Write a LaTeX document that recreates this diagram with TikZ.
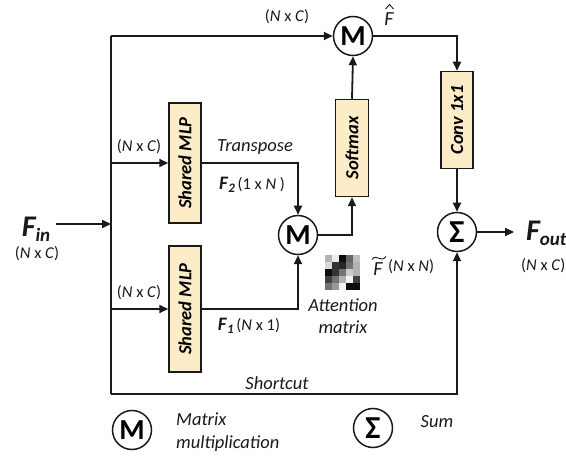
\documentclass[tikz,border=0pt]{standalone}
\usepackage{fontspec}
\setmainfont{Carlito}
\usetikzlibrary{arrows.meta}
\definecolor{boxfill}{RGB}{253,236,200}
\definecolor{ink}{RGB}{25,25,25}
\tikzset{
  arr/.style={-{Triangle[length=9pt,width=8pt]}, line width=1.8pt, draw=ink},
  ln/.style={line width=1.8pt, draw=ink},
  accent/.style={line width=0.9pt, draw=ink},
  opbox/.style={draw=ink, line width=1.5pt, fill=boxfill, rectangle, inner sep=0pt, minimum width=32pt, font=\fontsize{18.5}{18.5}\selectfont\bfseries\itshape},
  opcirc/.style={draw=ink, line width=1.5pt, circle, inner sep=0pt, minimum size=39pt, font=\fontsize{29}{29}\selectfont\bfseries},
  lbl/.style={inner sep=0pt, text=ink, font=\fontsize{16.5}{16.5}\selectfont},
  ilbl/.style={inner sep=0pt, text=ink, font=\fontsize{18.5}{18.5}\selectfont\itshape},
}
\newcommand{\NxC}{(\textit{N} x \textit{C})}
\begin{document}
\begin{tikzpicture}[x=1pt,y=-1pt]
\useasboundingbox (0,0) rectangle (566,457);
% nodes
\node[inner sep=0pt, text=ink, font=\fontsize{30}{30}\selectfont\bfseries\itshape] (fin) at (36,229) {F\raisebox{-0.35ex}{\fontsize{19}{19}\selectfont in}};
\node[lbl] (finsz) at (37,254) {\NxC};
\coordinate (split) at (111,224);
\coordinate (tTop) at (111,36);
\coordinate (tBot) at (111,394);
\node[opcirc] (mtop) at (353,36) {M};
\node[opbox, minimum height=120pt] (mlp1) at (185,163) {\rotatebox{90}{Shared MLP}};
\node[opbox, minimum height=126pt] (mlp2) at (185,309) {\rotatebox{90}{Shared MLP}};
\node[opcirc] (mmid) at (298,235) {M};
\node[opbox, minimum width=33pt, minimum height=97pt] (soft) at (352,148) {\rotatebox{90}{Softmax}};
\node[opbox, minimum height=97pt] (conv) at (457,120) {\rotatebox{90}{Conv 1x1}};
\node[opcirc, font=\fontsize{32}{32}\selectfont\bfseries] (sum) at (457,232) {Σ};
\coordinate (outend) at (514,232);
\node[anchor=west, inner sep=0pt, text=ink, font=\fontsize{30}{30}\selectfont\bfseries\itshape] (fout) at (526,233) {F\raisebox{-0.35ex}{\fontsize{19}{19}\selectfont out}};
\node[lbl, anchor=west] (foutsz) at (521,266) {\NxC};
% connectors
\draw[arr] (fin.east) ++(6,-5) coordinate (finr) -- (split);
\draw[ln] (tTop) -- (tBot);
\draw[arr] (tTop) -- (mtop.west);
\draw[arr] (tTop |- mlp1.west) -- (mlp1.west);
\draw[arr] (tTop |- mlp2.west) -- (mlp2.west);
\draw[arr] (mlp1.east) -| (mmid.north);
\draw[arr] (mlp2.east) -| (mmid.south);
\draw[arr] (mmid.east) -| (soft.south);
\draw[arr] (soft.north) -- (mtop.south);
\draw[arr] (mtop.east) -| (conv.north);
\draw[arr] (conv.south) -- (sum.north);
\draw[arr] (tBot) -| (sum.south);
\draw[arr] (sum.east) -- (outend);
% labels
\node[lbl] (ltop) at (287,17) {\NxC};
\node[inner sep=0pt, text=ink, font=\fontsize{20}{20}\selectfont\itshape, anchor=north] (fhat) at (389,12) {F};
\draw[accent] (385.5,9) -- (389.5,4.5) -- (393.5,9);
\node[lbl] (l1) at (139,147) {\NxC};
\node[ilbl] (ltr) at (255,147) {Transpose};
\node[lbl] (lf2) at (252,185) {\textbf{\textit{\fontsize{19}{19}\selectfont F}}\raisebox{-0.3ex}{\textbf{\textit{\fontsize{13}{13}\selectfont 2}}}\,(1 x \textit{N} )};
\node[lbl] (l2) at (139,293) {\NxC};
\node[lbl] (lf1) at (249,326) {\textbf{\textit{\fontsize{19}{19}\selectfont F}}\raisebox{-0.3ex}{\textbf{\textit{\fontsize{13}{13}\selectfont 1}}}\,(\textit{N} x 1)};
\node[inner sep=0pt, text=ink, font=\fontsize{20}{20}\selectfont\itshape, anchor=north] (ftil) at (378,262) {F};
\draw[accent] (372,259.5) .. controls (376,253) and (381,263.5) .. (386,256.5);
\node[lbl, anchor=west] (lft) at (388,267) {(\textit{N} x \textit{N})};
\node[ilbl] (latt1) at (343,305) {Attention};
\node[ilbl] (latt2) at (343,327) {matrix};
\node[ilbl] (lsc) at (277,383) {Shortcut};
% attention matrix
\foreach \r/\row in {0/{0.3,0.08,0.95,0.6,0.25},1/{0.15,0.8,0.85,0.55,0.3},2/{0.95,0.8,0.55,0.2,0.3},3/{0.75,0.55,0.3,0.05,0.75},4/{0.55,0.4,0.05,0.95,0.95}}{
  \foreach \v [count=\c from 0] in \row {
    \pgfmathsetmacro{\pc}{100*\v}
    \fill[black!\pc!white] (325+7*\c,255+7*\r) rectangle ++(7,7);
  }
}
% legend
\node[opcirc] (legm) at (132,430) {M};
\node[ilbl, anchor=west] (legm1) at (176,419) {Matrix};
\node[ilbl, anchor=west] (legm2) at (176,444) {multiplication};
\node[opcirc, font=\fontsize{32}{32}\selectfont\bfseries] (legs) at (373,428) {Σ};
\node[ilbl] (legs1) at (437,422) {Sum};
\end{tikzpicture}
\end{document}
